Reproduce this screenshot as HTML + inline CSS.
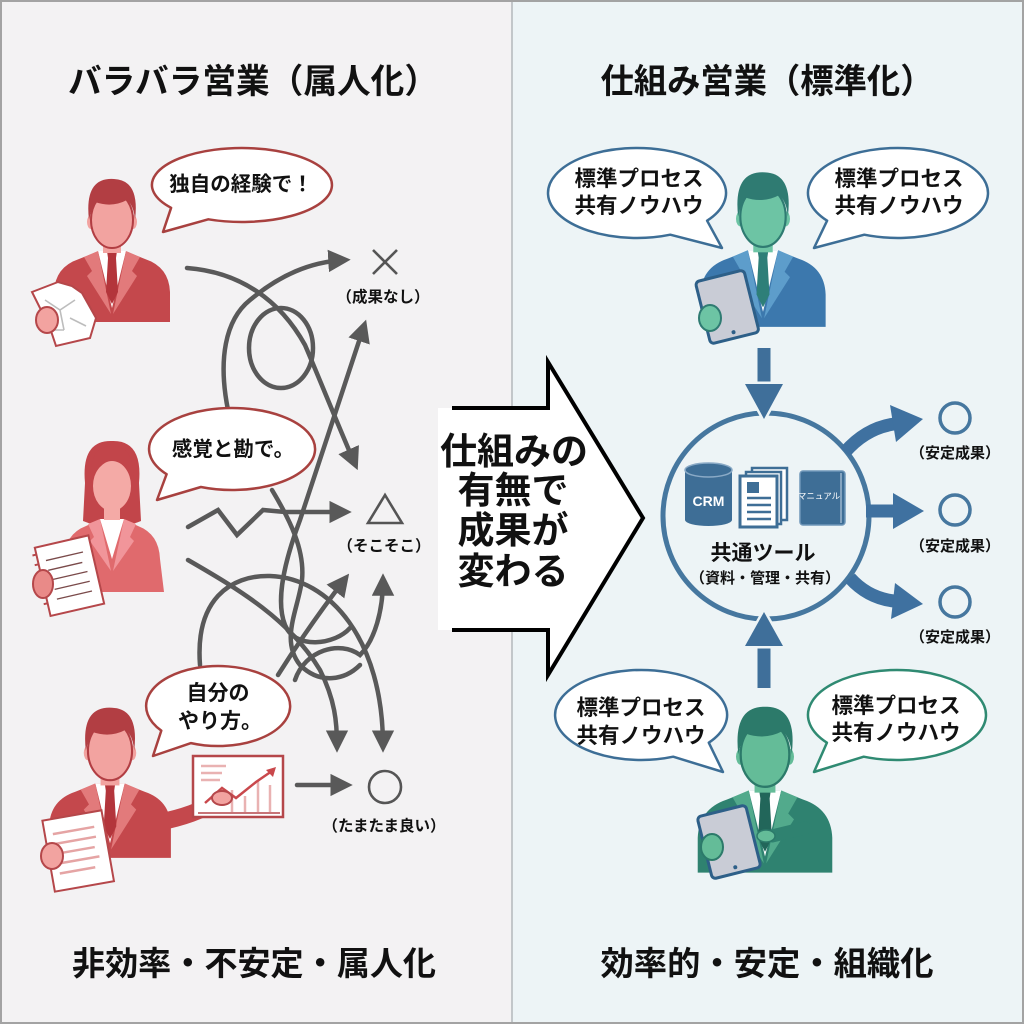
<!DOCTYPE html>
<html><head><meta charset="utf-8">
<style>
html,body{margin:0;padding:0;background:#fff}
svg{display:block}
text{font-family:"Liberation Sans","Noto Sans CJK JP",sans-serif;font-weight:700;fill:#111}
</style></head><body>
<svg width="1024" height="1024" viewBox="0 0 1024 1024" xmlns="http://www.w3.org/2000/svg" xmlns:xlink="http://www.w3.org/1999/xlink">
<defs>
<marker id="ah" viewBox="0 0 10 10" refX="7" refY="5" markerWidth="5" markerHeight="5" orient="auto"><path d="M0,0 L10,5 L0,10 Z" fill="#595959"/></marker>
<g id="man">
<path style="fill:var(--suit)" d="M-58,98 L-58,68 Q-57,43 -33,35 L-13,27 L13,27 L33,35 Q57,43 58,68 L58,98 Z"/>
<path fill="#fff" d="M-14,27 L14,27 L0,84 Z"/>
<path style="fill:var(--lapel)" d="M-14,27 L-28,33 L-20,47 L-25,52 L-1,90 Z"/>
<path style="fill:var(--lapel)" d="M14,27 L28,33 L20,47 L25,52 L1,90 Z"/>
<path style="fill:var(--tie)" d="M-5,27 L5,27 L4,34 L6,68 L0,80 L-6,68 L-4,34 Z"/>
<rect x="-9" y="10" width="18" height="19" style="fill:var(--face)"/>
<ellipse cx="-21" cy="-2" rx="4" ry="7" style="fill:var(--face)"/>
<ellipse cx="21" cy="-2" rx="4" ry="7" style="fill:var(--face)"/>
<ellipse cx="0" cy="-4" rx="21" ry="28" style="fill:var(--face);stroke:var(--hair)" stroke-width="2"/>
<path style="fill:var(--hair)" d="M-23,-4 Q-28,-47 2,-45 Q28,-44 23,-4 Q22,-18 15,-24 Q0,-16 -17,-22 Q-21,-14 -23,-4 Z"/>
</g>
<g id="woman">
<path style="fill:var(--hair)" d="M-27,-6 Q-31,-49 0,-48 Q31,-49 27,-6 L29,32 Q15,38 0,36 Q-15,38 -29,32 Z"/>
<path style="fill:var(--suit)" d="M-48,103 L-48,70 Q-47,45 -26,37 L-11,30 L11,30 L26,37 Q47,45 48,70 L52,103 Z"/>
<path fill="#fff" d="M-12,30 L12,30 L0,70 Z"/>
<path style="fill:var(--lapel)" d="M-12,30 L-24,35 L-18,48 L-22,52 L-1,82 Z"/>
<path style="fill:var(--lapel)" d="M12,30 L24,35 L18,48 L22,52 L1,82 Z"/>
<rect x="-8" y="12" width="16" height="19" style="fill:var(--face)"/>
<ellipse cx="0" cy="-3" rx="19" ry="25" style="fill:var(--face)"/>
<path style="fill:var(--hair)" d="M-21,-6 Q-24,-43 0,-43 Q24,-43 21,-6 Q16,-26 0,-29 Q-14,-26 -21,-6 Z"/>
</g>
</defs>

<!-- backgrounds -->
<rect x="0" y="0" width="512" height="1024" fill="#f3f2f3"/>
<rect x="512" y="0" width="512" height="1024" fill="#edf4f6"/>
<line x1="512" y1="0" x2="512" y2="1024" stroke="#b3b8bb" stroke-width="1.5"/>
<rect x="1" y="1" width="1022" height="1022" fill="none" stroke="#a3a3a3" stroke-width="2"/>

<!-- titles -->
<text x="253" y="93" font-size="34" text-anchor="middle" textLength="370" lengthAdjust="spacingAndGlyphs">バラバラ営業（属人化）</text>
<text x="767" y="93" font-size="34" text-anchor="middle" textLength="333" lengthAdjust="spacingAndGlyphs">仕組み営業（標準化）</text>
<text x="254" y="975" font-size="33" text-anchor="middle" textLength="364" lengthAdjust="spacingAndGlyphs">非効率・不安定・属人化</text>
<text x="767" y="975" font-size="33" text-anchor="middle" textLength="333" lengthAdjust="spacingAndGlyphs">効率的・安定・組織化</text>

<!-- LEFT tangled arrows -->
<g fill="none" stroke="#595959" stroke-width="4.5" stroke-linecap="round">
<path d="M187,268 C240,272 280,300 305,345 C320,380 340,430 355,464" marker-end="url(#ah)"/>
<path d="M228,410 C218,360 225,320 250,300 C280,275 310,262 344,260" marker-end="url(#ah)"/>
<ellipse cx="281" cy="348" rx="32" ry="40"/>
<path d="M350,628 C335,645 295,650 285,625 C275,600 285,560 300,520 L364,326" marker-end="url(#ah)"/>
<path d="M188,527 L218,510 L237,535 L263,510 L285,512 L345,512" marker-end="url(#ah)"/>
<path d="M272,490 C290,520 305,550 302,580 C298,610 280,640 300,665 C320,685 345,680 360,665"/>
<path d="M188,560 C240,590 290,620 320,670 C335,700 337,722 337,746" marker-end="url(#ah)"/>
<path d="M200,665 C195,600 230,575 270,576 C330,578 383,640 383,746" marker-end="url(#ah)"/>
<path d="M278,675 C300,640 325,605 345,579" marker-end="url(#ah)"/>
<path d="M295,680 C305,650 340,640 360,655 C375,640 383,610 383,580" marker-end="url(#ah)"/>
<path d="M297,785 L346,785" marker-end="url(#ah)"/>
</g>

<!-- left result symbols -->
<g stroke="#555" stroke-width="2.6" fill="none">
<line x1="373" y1="250" x2="397" y2="274"/><line x1="397" y1="250" x2="373" y2="274"/>
<polygon points="385,495 368,523 402,523"/>
<circle cx="385" cy="787" r="16"/>
</g>
<text x="383" y="302" font-size="15.5" text-anchor="middle">（成果なし）</text>
<text x="384" y="551" font-size="15.5" text-anchor="middle">（そこそこ）</text>
<text x="384" y="831" font-size="15.5" text-anchor="middle">（たまたま良い）</text>

<!-- left people -->
<use xlink:href="#man" href="#man" transform="translate(112,224)" style="--suit:#c4484c;--lapel:#e27a7b;--tie:#b3353b;--face:#f2a3a0;--hair:#b23e43"/>
<g>
<polygon points="32,292 58,282 72,286 82,293 96,318 90,338 56,346 48,322 40,308" fill="#fff" stroke="#b5474a" stroke-width="2"/>
<path d="M45,300 L60,310 L75,300 M60,310 L64,330 M70,318 L86,326 M52,330 L64,330" stroke="#bdbdbd" stroke-width="1.6" fill="none"/>
<ellipse cx="47" cy="320" rx="11" ry="13" fill="#f2a3a0" stroke="#b5474a" stroke-width="2"/>
</g>

<use xlink:href="#woman" href="#woman" transform="translate(112,489)" style="--suit:#e06a6d;--lapel:#f1959a;--face:#f4aaa6;--hair:#c2454a"/>
<g transform="rotate(-13 68 576)">
<rect x="42" y="541" width="55" height="70" fill="#fff" stroke="#b5474a" stroke-width="2"/>
<path d="M50,556 L88,556 M50,566 L85,566 M50,576 L88,576 M52,586 L88,586 M52,596 L88,596" stroke="#7a4a4a" stroke-width="1.3" fill="none"/>
<path d="M42,548 L38,548 M42,558 L38,558 M42,568 L38,568 M42,578 L38,578 M42,588 L38,588 M42,598 L38,598" stroke="#b5474a" stroke-width="2"/>
</g>
<ellipse cx="43" cy="584" rx="10" ry="14" fill="#e98a88" stroke="#b5474a" stroke-width="2"/>

<use xlink:href="#man" href="#man" transform="translate(110,755) scale(1.05)" style="--suit:#c4484c;--lapel:#e27a7b;--tie:#b3353b;--face:#f2a3a0;--hair:#b23e43"/>
<path d="M160,822 Q195,815 215,802" stroke="#c4484c" stroke-width="17" stroke-linecap="round" fill="none"/>
<rect x="193" y="756" width="90" height="61" fill="#fff" stroke="#b5474a" stroke-width="2.5"/>
<g stroke="#e9b2b2" stroke-width="2.5">
<line x1="201" y1="766" x2="226" y2="766"/><line x1="201" y1="773" x2="222" y2="773"/><line x1="201" y1="780" x2="220" y2="780"/>
<line x1="232" y1="812" x2="232" y2="790"/><line x1="245" y1="812" x2="245" y2="796"/><line x1="258" y1="812" x2="258" y2="780"/><line x1="270" y1="812" x2="270" y2="785"/>
</g>
<polyline points="205,803 222,788 236,798 256,782 272,771" fill="none" stroke="#c9484c" stroke-width="2.5"/>
<polygon points="276,767 266,770 273,777" fill="#c9484c"/>
<line x1="198" y1="813" x2="280" y2="813" stroke="#b5474a" stroke-width="1.5"/>
<ellipse cx="222" cy="798" rx="10" ry="7" fill="#f2a3a0" stroke="#b5474a" stroke-width="2"/>
<g transform="rotate(-10 78 850)">
<rect x="48" y="815" width="60" height="72" fill="#fff" stroke="#b5474a" stroke-width="2"/>
<path d="M56,830 L98,830 M56,840 L98,840 M56,850 L95,850 M56,860 L98,860 M56,870 L92,870" stroke="#e5a4a4" stroke-width="2.5" fill="none"/>
</g>
<ellipse cx="52" cy="856" rx="11" ry="13" fill="#f2a3a0" stroke="#b5474a" stroke-width="2"/>

<!-- left bubbles -->
<g fill="#fff" stroke="#a8413f" stroke-width="2.5" stroke-linejoin="round">
<path d="M208.3,219.3 A90,37 0 1 0 171.1,207.8 L163,232 Z"/>
<path d="M200.9,487 A83,41 0 1 0 166.6,474.2 L157,500 Z"/>
<path d="M191,743.1 A72,40 0 1 0 161.3,730.6 L153,756 Z"/>
</g>
<text x="241" y="191" font-size="20.5" text-anchor="middle">独自の経験で！</text>
<text x="233" y="456" font-size="20.5" text-anchor="middle">感覚と勘で。</text>
<text x="218" y="700" font-size="21" text-anchor="middle">自分の</text>
<text x="220" y="728" font-size="21" text-anchor="middle">やり方。</text>

<!-- CENTER arrow -->
<polygon points="438,408 548,408 548,362 643,518 548,675 548,630 438,630" fill="#fff"/>
<path d="M452,408 L548,408 L548,362 L643,518 L548,675 L548,630 L452,630" fill="none" stroke="#000" stroke-width="4" stroke-linejoin="miter"/>
<g font-size="37" text-anchor="middle">
<text x="514" y="464">仕組みの</text>
<text x="513" y="503">有無で</text>
<text x="513" y="543">成果が</text>
<text x="513" y="584">変わる</text>
</g>

<!-- RIGHT people -->
<use xlink:href="#man" href="#man" transform="translate(763,221) scale(1.08)" style="--suit:#3c78ad;--lapel:#5d9dcb;--tie:#2e7f78;--face:#6dc4a4;--hair:#2f7b72"/>
<g transform="rotate(-14 727 306)">
<rect x="702" y="275" width="50" height="64" rx="4" fill="#c9ccd6" stroke="#2d5f88" stroke-width="3"/>
<circle cx="727" cy="333" r="2" fill="#2d5f88"/>
</g>
<ellipse cx="710" cy="318" rx="11" ry="13" fill="#6dc4a4" stroke="#2f7b72" stroke-width="2"/>

<use xlink:href="#man" href="#man" transform="translate(765,759) scale(1.16)" style="--suit:#2f8270;--lapel:#52aa8c;--tie:#22665a;--face:#64bc98;--hair:#2c7a6a"/>
<g transform="rotate(-14 729 842)">
<rect x="704" y="810" width="50" height="64" rx="4" fill="#c9ccd6" stroke="#2d5f88" stroke-width="3"/>
<circle cx="729" cy="868" r="2" fill="#2d5f88"/>
</g>
<path d="M805,828 L772,836" stroke="#2f8270" stroke-width="13" stroke-linecap="round" fill="none"/>
<ellipse cx="766" cy="836" rx="9" ry="6" fill="#64bc98" stroke="#2c7a6a" stroke-width="1.5"/>
<ellipse cx="712" cy="847" rx="11" ry="13" fill="#64bc98" stroke="#2c7a6a" stroke-width="2"/>

<!-- right bubbles -->
<g fill="#fff" stroke-width="2.5" stroke-linejoin="round">
<path stroke="#3d6e96" d="M707.1,220.7 A89,45 0 1 0 670.3,234.7 L722,248 Z"/>
<path stroke="#3d6e96" d="M864.3,234.7 A90,45 0 1 0 827.1,220.7 L814,248 Z"/>
<path stroke="#3d6e96" d="M708.8,742.7 A86,45 0 1 0 673.2,756.7 L723,772 Z"/>
<path stroke="#2f8a72" d="M863.7,756.7 A89,45 0 1 0 826.9,742.7 L814,772 Z"/>
</g>
<g font-size="21.5" text-anchor="middle">
<text x="639" y="186">標準プロセス</text><text x="639" y="213">共有ノウハウ</text>
<text x="899" y="186">標準プロセス</text><text x="899" y="213">共有ノウハウ</text>
<text x="641" y="715">標準プロセス</text><text x="641" y="743">共有ノウハウ</text>
<text x="896" y="713">標準プロセス</text><text x="896" y="740">共有ノウハウ</text>
</g>

<!-- central tool circle -->
<circle cx="766" cy="516" r="103" fill="none" stroke="#46779f" stroke-width="5"/>
<rect x="757.5" y="348" width="13" height="40" fill="#3f6f9a"/>
<polygon points="745,384 783,384 764,419" fill="#3f6f9a" stroke="#edf4f6" stroke-width="5" paint-order="stroke"/>
<rect x="757.5" y="642" width="13" height="46" fill="#3f6f9a"/>
<polygon points="745,646 783,646 764,612" fill="#3f6f9a" stroke="#edf4f6" stroke-width="5" paint-order="stroke"/>

<!-- CRM -->
<rect x="685" y="470" width="47" height="50" fill="#3e6e96"/>
<ellipse cx="708.5" cy="520" rx="23.5" ry="6" fill="#3e6e96"/>
<ellipse cx="708.5" cy="470" rx="23.5" ry="7" fill="#3e6e96" stroke="#8aaac6" stroke-width="1.5"/>
<text x="708.5" y="506" font-size="14" text-anchor="middle" style="fill:#fff">CRM</text>
<!-- docs -->
<rect x="752" y="468" width="35" height="52" fill="#fff" stroke="#3e6e96" stroke-width="2.5"/>
<rect x="746" y="472" width="35" height="52" fill="#fff" stroke="#3e6e96" stroke-width="2.5"/>
<rect x="740" y="476" width="37" height="51" fill="#fff" stroke="#3e6e96" stroke-width="3"/>
<rect x="747" y="482" width="12" height="11" fill="#3e6e96"/>
<g stroke="#3e6e96" stroke-width="2.5"><line x1="747" y1="498" x2="771" y2="498"/><line x1="747" y1="505" x2="771" y2="505"/><line x1="747" y1="512" x2="771" y2="512"/><line x1="747" y1="519" x2="771" y2="519"/></g>
<!-- manual -->
<rect x="800" y="471" width="45" height="54" rx="3" fill="#3e6e96" stroke="#6f96b8" stroke-width="1.5"/>
<line x1="841" y1="473" x2="841" y2="523" stroke="#9bb7cf" stroke-width="1.5"/>
<text x="819" y="499" font-size="8.5" text-anchor="middle" style="fill:#fff;font-weight:400">マニュアル</text>
<text x="763" y="560" font-size="21" text-anchor="middle">共通ツール</text>
<text x="765" y="583" font-size="15" text-anchor="middle">（資料・管理・共有）</text>

<!-- right output arrows -->
<g fill="none" stroke="#3f71a0" stroke-width="13">
<path d="M845,452 Q866,428 894,424"/>
<line x1="866" y1="511" x2="896" y2="511"/>
<path d="M850,578 Q868,598 894,601"/>
</g>
<g fill="#3f71a0">
<polygon points="923,419 890,405 896,442"/>
<polygon points="924,511 893,493 893,529"/>
<polygon points="923,604 891,619 895,583"/>
</g>
<g fill="none" stroke="#46779f" stroke-width="3.5">
<circle cx="955" cy="418" r="15"/>
<circle cx="955" cy="510" r="15"/>
<circle cx="955" cy="602" r="15"/>
</g>
<g font-size="15" text-anchor="middle">
<text x="955" y="458">（安定成果）</text>
<text x="955" y="551">（安定成果）</text>
<text x="955" y="642">（安定成果）</text>
</g>
</svg>
</body></html>
